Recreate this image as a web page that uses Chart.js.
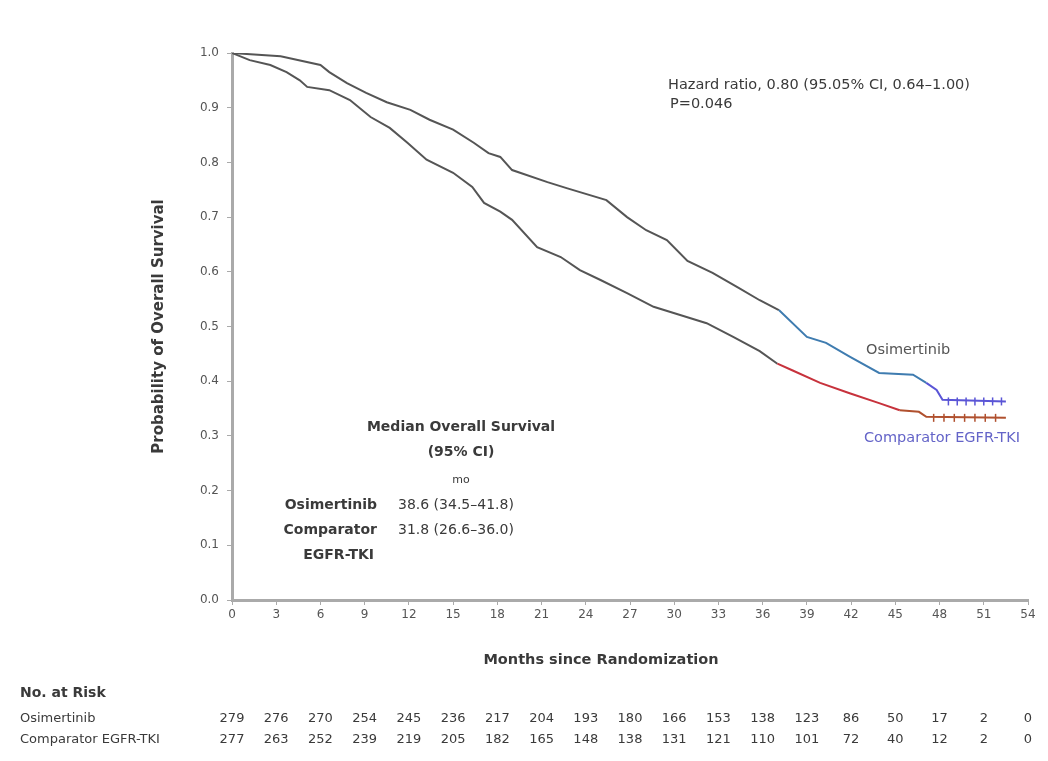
<!DOCTYPE html>
<html>
<head>
<meta charset="utf-8">
<script src="https://cdn.jsdelivr.net/npm/chart.js@4.4.1/dist/chart.umd.min.js"></script>
<style>
  html, body { margin: 0; padding: 0; background: #fff; }
  #wrap { width: 1048px; height: 761px; position: relative; }
</style>
</head>
<body>
<div id="wrap"><canvas id="km"></canvas></div>
<script>
// Curvas Kaplan-Meier (meses, probabilidad)
const osiMonths = [0, 1, 3.3, 6, 6.6, 7.8, 9.1, 10.5, 12.1, 13.4, 15, 16.4, 17.4, 18.2, 19, 21.4, 22.7, 25.4, 26.8, 28.1, 29.5, 30.9, 32.6, 34.4, 35.8, 37.1, 39, 40.3, 41.9, 43.9, 46.2, 47.1, 47.8, 48.2, 52.5];
const osiSurv   = [1.0, 0.998, 0.994, 0.978, 0.965, 0.945, 0.927, 0.91, 0.896, 0.878, 0.86, 0.836, 0.817, 0.81, 0.786, 0.764, 0.753, 0.731, 0.70, 0.676, 0.658, 0.62, 0.598, 0.570, 0.548, 0.53, 0.481, 0.47, 0.445, 0.415, 0.412, 0.397, 0.384, 0.366, 0.363];

const compMonths = [0, 1.2, 2.6, 3.7, 4.6, 5.1, 6.6, 8, 9.4, 10.7, 11.9, 13.2, 15, 16.3, 17.1, 18.2, 19, 20.7, 22.3, 23.6, 25, 26.8, 28.6, 30.4, 32.2, 34, 35.8, 37, 38, 39.9, 41.9, 43.9, 45.3, 46.6, 47.1, 52.5];
const compSurv   = [1.0, 0.987, 0.978, 0.965, 0.95, 0.938, 0.932, 0.914, 0.883, 0.863, 0.836, 0.805, 0.781, 0.755, 0.726, 0.71, 0.695, 0.645, 0.627, 0.603, 0.585, 0.561, 0.536, 0.521, 0.506, 0.481, 0.455, 0.432, 0.42, 0.397, 0.378, 0.36, 0.347, 0.344, 0.335, 0.333];

// Censuras al final de las curvas
const osiCensor  = [48.6, 49.2, 49.8, 50.4, 51.0, 51.6, 52.2];
const compCensor = [47.6, 48.3, 49.0, 49.7, 50.4, 51.1, 51.8];

// Ejes
const xTicks = [0, 3, 6, 9, 12, 15, 18, 21, 24, 27, 30, 33, 36, 39, 42, 45, 48, 51, 54];
const yTicks = [0, 0.1, 0.2, 0.3, 0.4, 0.5, 0.6, 0.7, 0.8, 0.9, 1.0];

// Número en riesgo
const riskOsi  = [279, 276, 270, 254, 245, 236, 217, 204, 193, 180, 166, 153, 138, 123, 86, 50, 17, 2, 0];
const riskComp = [277, 263, 252, 239, 219, 205, 182, 165, 148, 138, 131, 121, 110, 101, 72, 40, 12, 2, 0];

const FONT = '"DejaVu Sans", Verdana, sans-serif';
const TXT  = '#3a3a3a';

const toPts = (xs, ys) => xs.map((x, i) => ({ x, y: ys[i] }));
const lastY = ys => ys[ys.length - 1];

const osiColor = c => {
  const x = c.p0.parsed.x;
  return x >= 46.5 ? '#5a55d6' : x >= 36 ? '#3f7cb0' : '#555';
};
const compColor = c => {
  const x = c.p0.parsed.x;
  return x >= 44 ? '#b0502e' : x >= 36.5 ? '#c7323c' : '#555';
};

// Textos y tabla de riesgo
const annotations = {
  id: 'annotations',
  afterDraw(chart) {
    const { ctx } = chart;
    const xs = chart.scales.x;
    ctx.save();
    ctx.textBaseline = 'middle';

    // HR
    ctx.fillStyle = TXT;
    ctx.font = '14.5px ' + FONT;
    ctx.textAlign = 'left';
    ctx.fillText('Hazard ratio, 0.80 (95.05% CI, 0.64\u20131.00)', 668, 85);
    ctx.fillText('P=0.046', 670, 104);

    // Etiquetas de curvas
    ctx.fillStyle = '#555';
    ctx.fillText('Osimertinib', 866, 350);
    ctx.fillStyle = '#6464c8';
    ctx.fillText('Comparator EGFR-TKI', 864, 438);

    // Mediana
    ctx.fillStyle = TXT;
    ctx.font = 'bold 14px ' + FONT;
    ctx.textAlign = 'center';
    ctx.fillText('Median Overall Survival', 461, 427);
    ctx.fillText('(95% CI)', 461, 452);
    ctx.font = '11px ' + FONT;
    ctx.fillText('mo', 461, 480);
    ctx.font = 'bold 14px ' + FONT;
    ctx.textAlign = 'right';
    ctx.fillText('Osimertinib', 377, 505);
    ctx.fillText('Comparator', 377, 530);
    ctx.fillText('EGFR-TKI', 374, 555);
    ctx.font = '14px ' + FONT;
    ctx.textAlign = 'left';
    ctx.fillText('38.6 (34.5\u201341.8)', 398, 505);
    ctx.fillText('31.8 (26.6\u201336.0)', 398, 530);

    // Título del eje X
    ctx.font = 'bold 14.5px ' + FONT;
    ctx.textAlign = 'center';
    ctx.fillText('Months since Randomization', 601, 660);

    // No. at Risk
    ctx.textAlign = 'left';
    ctx.font = 'bold 14px ' + FONT;
    ctx.fillText('No. at Risk', 20, 693);
    ctx.font = '13px ' + FONT;
    ctx.fillText('Osimertinib', 20, 719);
    ctx.fillText('Comparator EGFR-TKI', 20, 740);
    ctx.textAlign = 'center';
    xTicks.forEach((m, i) => {
      const px = xs.getPixelForValue(m);
      ctx.fillText(String(riskOsi[i]), px, 719);
      ctx.fillText(String(riskComp[i]), px, 740);
    });
    ctx.restore();
  }
};

new Chart(document.getElementById('km'), {
  type: 'line',
  data: {
    datasets: [
      {
        label: 'Osimertinib',
        data: toPts(osiMonths, osiSurv),
        borderColor: '#555',
        borderWidth: 2,
        pointRadius: 0,
        tension: 0,
        segment: { borderColor: osiColor }
      },
      {
        label: 'Comparator EGFR-TKI',
        data: toPts(compMonths, compSurv),
        borderColor: '#555',
        borderWidth: 2,
        pointRadius: 0,
        tension: 0,
        segment: { borderColor: compColor }
      },
      {
        label: 'Osimertinib censored',
        data: osiCensor.map(x => ({ x, y: lastY(osiSurv) })),
        showLine: false,
        pointStyle: 'line',
        rotation: 90,
        pointRadius: 4,
        pointBorderWidth: 1.5,
        pointBorderColor: '#5a55d6'
      },
      {
        label: 'Comparator censored',
        data: compCensor.map(x => ({ x, y: lastY(compSurv) })),
        showLine: false,
        pointStyle: 'line',
        rotation: 90,
        pointRadius: 4,
        pointBorderWidth: 1.5,
        pointBorderColor: '#b0502e'
      }
    ]
  },
  options: {
    responsive: true,
    maintainAspectRatio: false,
    animation: false,
    layout: { padding: { left: 148, right: 20, top: 53, bottom: 86 } },
    plugins: { legend: { display: false }, tooltip: { enabled: false } },
    scales: {
      x: {
        type: 'linear',
        min: 0, max: 54,
        afterBuildTicks: s => { s.ticks = xTicks.map(v => ({ value: v })); },
        afterFit: s => { s.height = 75; },
        ticks: { color: '#555', font: { family: FONT, size: 12 }, padding: 3, maxRotation: 0 },
        grid: { drawOnChartArea: false, drawTicks: true, tickLength: 5, color: '#aaa' },
        border: { color: '#aaa', width: 3 }
      },
      y: {
        min: 0, max: 1,
        afterBuildTicks: s => { s.ticks = yTicks.map(v => ({ value: v })); },
        afterFit: s => { s.width = 84; },
        ticks: { color: '#555', font: { family: FONT, size: 12 }, padding: 8, callback: v => v.toFixed(1) },
        grid: { drawOnChartArea: false, drawTicks: true, tickLength: 5, color: '#aaa' },
        border: { color: '#aaa', width: 3 },
        title: {
          display: true, text: 'Probability of Overall Survival', color: TXT,
          font: { family: FONT, size: 15, weight: 'bold' }, padding: { top: 2, bottom: 2 }
        }
      }
    }
  },
  plugins: [annotations]
});
</script>
</body>
</html>
